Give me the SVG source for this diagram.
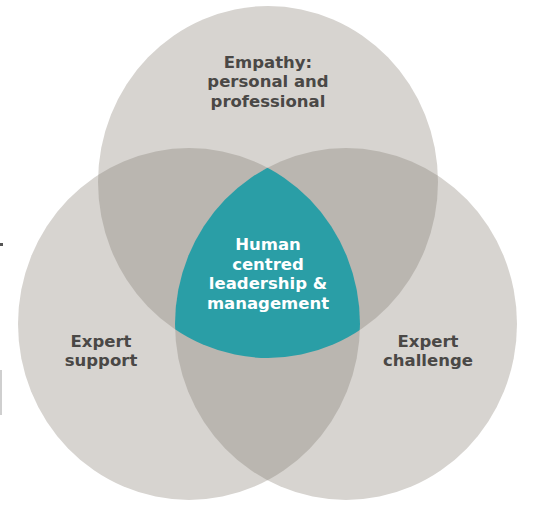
<svg xmlns="http://www.w3.org/2000/svg" width="541" height="508" viewBox="0 0 541 508">
<style>
.c{fill:#d7d4d0}
.p{fill:#bab6b0}
.t{fill:#2a9ea6}
.lbl{font-family:"DejaVu Sans","Liberation Sans",sans-serif;font-weight:bold;font-size:16.5px;text-anchor:middle;fill:#4a4846}
.ctr{fill:#ffffff}
</style>
<defs>
<clipPath id="clipTop"><ellipse cx="268" cy="182" rx="170" ry="176"/></clipPath>
<clipPath id="clipLeft"><ellipse cx="189" cy="324" rx="171" ry="176"/></clipPath>
<clipPath id="clipRight"><ellipse cx="346" cy="324" rx="171" ry="176"/></clipPath>
</defs>
<rect width="541" height="508" fill="#ffffff"/>
<rect x="0" y="243" width="3" height="3" fill="#555"/>
<rect x="0" y="370" width="2" height="45" fill="#cfcfcf"/>
<g id="connectors"/>
<g id="empathy">
<ellipse class="c" cx="268" cy="182" rx="170" ry="176"/>
</g>
<g id="support">
<ellipse class="c" cx="189" cy="324" rx="171" ry="176"/>
</g>
<g id="challenge">
<ellipse class="c" cx="346" cy="324" rx="171" ry="176"/>
</g>
<g id="overlaps">
<ellipse class="p" cx="189" cy="324" rx="171" ry="176" clip-path="url(#clipTop)"/>
<ellipse class="p" cx="346" cy="324" rx="171" ry="176" clip-path="url(#clipTop)"/>
<ellipse class="p" cx="346" cy="324" rx="171" ry="176" clip-path="url(#clipLeft)"/>
</g>
<g id="center">
<g clip-path="url(#clipTop)">
<ellipse class="t" cx="346" cy="324" rx="171" ry="176" clip-path="url(#clipLeft)"/>
</g>
<text class="lbl ctr" x="268" y="250">Human</text>
<text class="lbl ctr" x="268" y="269.5">centred</text>
<text class="lbl ctr" x="268" y="289">leadership &amp;</text>
<text class="lbl ctr" x="268" y="308.5">management</text>
</g>
<g id="labels">
<text class="lbl" x="268" y="67.5">Empathy:</text>
<text class="lbl" x="268" y="87">personal and</text>
<text class="lbl" x="268" y="106.5">professional</text>
<text class="lbl" x="101" y="346.75">Expert</text>
<text class="lbl" x="101" y="366.25">support</text>
<text class="lbl" x="428" y="346.75">Expert</text>
<text class="lbl" x="428" y="366.25">challenge</text>
</g>
</svg>
